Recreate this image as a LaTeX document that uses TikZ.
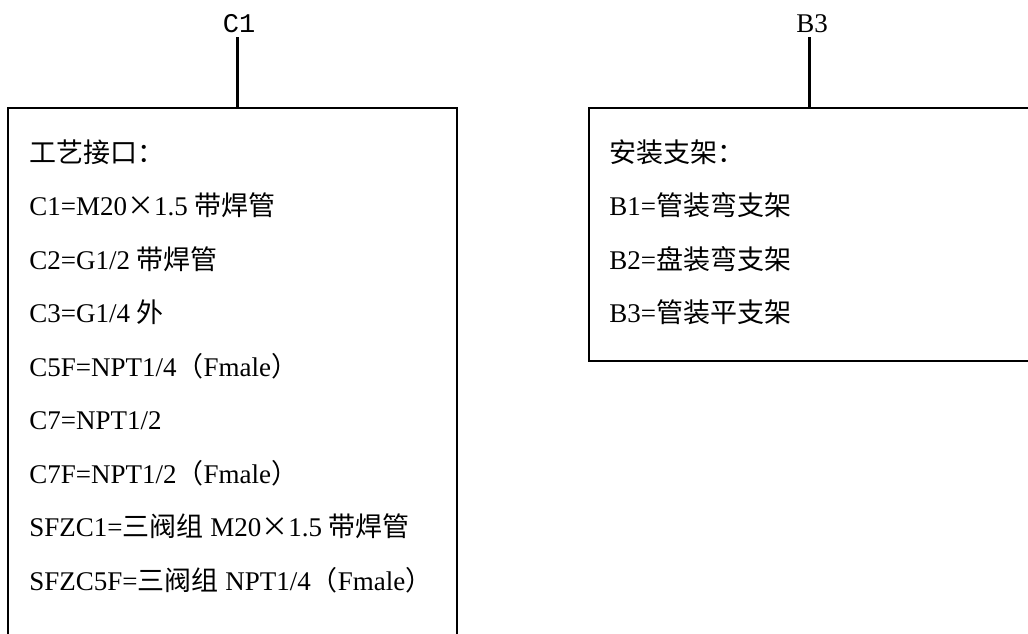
\documentclass[tikz,border=0pt]{standalone}
\usepackage{fontspec}
\setmainfont{Liberation Serif}
\newfontfamily\cjk{Noto Sans CJK SC}
\newfontfamily\tagfont{Liberation Mono}
\newcommand{\zhtxt}[1]{{\cjk #1}}

\tikzset{
    panel/.style={draw=black, line width=1pt, rectangle, outer sep=0pt, inner sep=0pt},
    stem/.style={draw=black, line width=1.5pt},
    entry/.style={anchor=base west, inner sep=0pt, font=\fontsize{13.5}{16}\selectfont},
    tag/.style={anchor=base, inner sep=0pt, font=\fontsize{13.5}{16}\selectfont}
}

\begin{document}
\begin{tikzpicture}[x=0.5pt, y=-0.5pt]
        \useasboundingbox (0,0) rectangle (1028,633);
        \clip (0,0) rectangle (1028,633);

        % boxes
        \node[panel, anchor=north west, minimum width=224.5pt, minimum height=280pt] (portbox) at (8,108) {};
        \node[panel, anchor=north west, minimum width=240pt, minimum height=126.5pt] (mountbox) at (589,108) {};

        % labels on top
        \node[tag, font=\fontsize{13.5}{16}\selectfont\tagfont] (c1lbl) at (239,32) {C1};
        \node[tag] (b3lbl) at (812,32) {B3};
        \coordinate (c1stem) at (237,37);
        \coordinate (b3stem) at (809,37);
        \draw[stem] (c1stem) -- (c1stem |- portbox.north);
        \draw[stem] (b3stem) -- (b3stem |- mountbox.north);

        % process connections
        \node[entry] (port0) at (29,162) {\zhtxt{工艺接口：}};
        \node[entry] (port1) at (29,215.5) {C1=M20\zhtxt{×}1.5 \zhtxt{带焊管}};
        \node[entry] (port2) at (29,269) {C2=G1/2 \zhtxt{带焊管}};
        \node[entry] (port3) at (29,322.5) {C3=G1/4 \zhtxt{外}};
        \node[entry] (port4) at (29,376) {C5F=NPT1/4\zhtxt{（}Fmale\zhtxt{）}};
        \node[entry] (port5) at (29,429.5) {C7=NPT1/2};
        \node[entry] (port6) at (29,483) {C7F=NPT1/2\zhtxt{（}Fmale\zhtxt{）}};
        \node[entry] (port7) at (29,536.5) {SFZC1=\zhtxt{三阀组} M20\zhtxt{×}1.5 \zhtxt{带焊管}};
        \node[entry] (port8) at (29,590) {SFZC5F=\zhtxt{三阀组} NPT1/4\zhtxt{（}Fmale\zhtxt{）}};

        % mounting brackets
        \node[entry] (mount0) at (609,162) {\zhtxt{安装支架：}};
        \node[entry] (mount1) at (609,215.5) {B1=\zhtxt{管装弯支架}};
        \node[entry] (mount2) at (609,269) {B2=\zhtxt{盘装弯支架}};
        \node[entry] (mount3) at (609,322.5) {B3=\zhtxt{管装平支架}};
    \end{tikzpicture}
\end{document}
